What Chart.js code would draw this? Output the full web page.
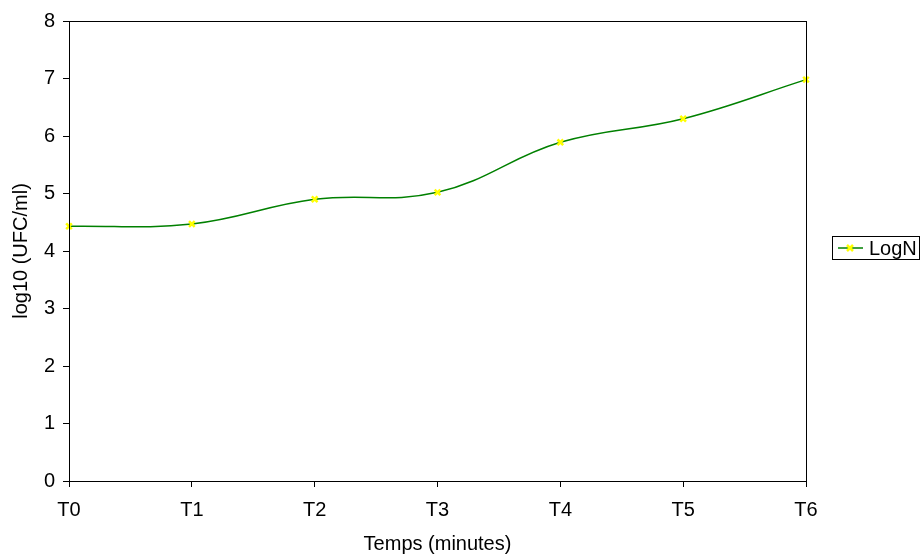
<!DOCTYPE html>
<html>
<head>
<meta charset="utf-8">
<script src="https://cdn.jsdelivr.net/npm/chart.js@4/dist/chart.umd.min.js"></script>
<style>
  html, body { margin: 0; padding: 0; background: #fff; }
  #wrap { width: 923px; height: 556px; }
</style>
</head>
<body>
<div id="wrap"><canvas id="chart" width="923" height="556"></canvas></div>
<script>
// données
const categories = ['T0', 'T1', 'T2', 'T3', 'T4', 'T5', 'T6'];
const logN = [4.43, 4.47, 4.90, 5.02, 5.89, 6.30, 6.98];
const yTicks = [0, 1, 2, 3, 4, 5, 6, 7, 8];
const seriesLabel = 'LogN';

const FONT = 'Liberation Sans, Arial, sans-serif';
const FSIZE = 20;
const GREEN = '#008000';
const YELLOW = '#ffff00';

// cadre autour de la zone de tracé + légende façon Excel
const boxAndLegend = {
  id: 'boxAndLegend',
  afterDraw(chart) {
    const ctx = chart.ctx;
    const a = chart.chartArea;
    ctx.save();
    ctx.strokeStyle = '#000';
    ctx.lineWidth = 1;
    ctx.strokeRect(Math.round(a.left) + 0.5, Math.round(a.top) + 0.5,
      Math.round(a.right - a.left), Math.round(a.bottom - a.top));

    // légende
    const lx = 832, ly = 236, lw = 87, lh = 23;
    ctx.strokeRect(lx + 0.5, ly + 0.5, lw, lh);
    const cy = ly + lh / 2 + 0.5;
    ctx.strokeStyle = GREEN;
    ctx.lineWidth = 1.5;
    ctx.beginPath();
    ctx.moveTo(lx + 6, cy);
    ctx.lineTo(lx + 31, cy);
    ctx.stroke();
    ctx.strokeStyle = YELLOW;
    ctx.lineWidth = 2.5;
    const mx = lx + 18, r = 3;
    ctx.beginPath();
    ctx.moveTo(mx - r, cy - r); ctx.lineTo(mx + r, cy + r);
    ctx.moveTo(mx - r, cy + r); ctx.lineTo(mx + r, cy - r);
    ctx.stroke();
    ctx.fillStyle = '#000';
    ctx.font = FSIZE + 'px ' + FONT;
    ctx.textBaseline = 'middle';
    ctx.fillText(chart.data.datasets[0].label, lx + 37, cy + 1);
    ctx.restore();
  }
};

new Chart(document.getElementById('chart'), {
  type: 'line',
  data: {
    labels: categories,
    datasets: [{
      label: seriesLabel,
      data: logN,
      borderColor: GREEN,
      borderWidth: 1.5,
      tension: 0.4,
      pointStyle: 'crossRot',
      pointRadius: 4,
      pointBorderColor: YELLOW,
      pointBorderWidth: 2.5,
      pointBackgroundColor: YELLOW,
      fill: false
    }]
  },
  options: {
    responsive: false,
    animation: false,
    layout: { padding: { top: 21, right: 117, left: 0, bottom: 0 } },
    plugins: {
      legend: { display: false },
      tooltip: { enabled: false }
    },
    scales: {
      x: {
        offset: false,
        grid: { drawOnChartArea: false, drawTicks: true, tickLength: 6, color: '#000' },
        border: { color: '#000', width: 1 },
        ticks: { color: '#000', font: { family: FONT, size: FSIZE }, padding: 11, maxRotation: 0 },
        title: { display: true, text: 'Temps (minutes)', color: '#000', font: { family: FONT, size: FSIZE }, padding: { top: 4, bottom: 0 } },
        afterFit(scale) { scale.height = 75; }
      },
      y: {
        min: 0,
        max: 8,
        afterBuildTicks(scale) { scale.ticks = yTicks.map(v => ({ value: v })); },
        grid: { drawOnChartArea: false, drawTicks: true, tickLength: 6, color: '#000' },
        border: { color: '#000', width: 1 },
        ticks: { color: '#000', font: { family: FONT, size: FSIZE }, padding: 8 },
        title: { display: true, text: 'log10 (UFC/ml)', color: '#000', font: { family: FONT, size: FSIZE }, padding: { top: 9, bottom: 0 } },
        afterFit(scale) { scale.width = 69; }
      }
    }
  },
  plugins: [boxAndLegend]
});
</script>
</body>
</html>
